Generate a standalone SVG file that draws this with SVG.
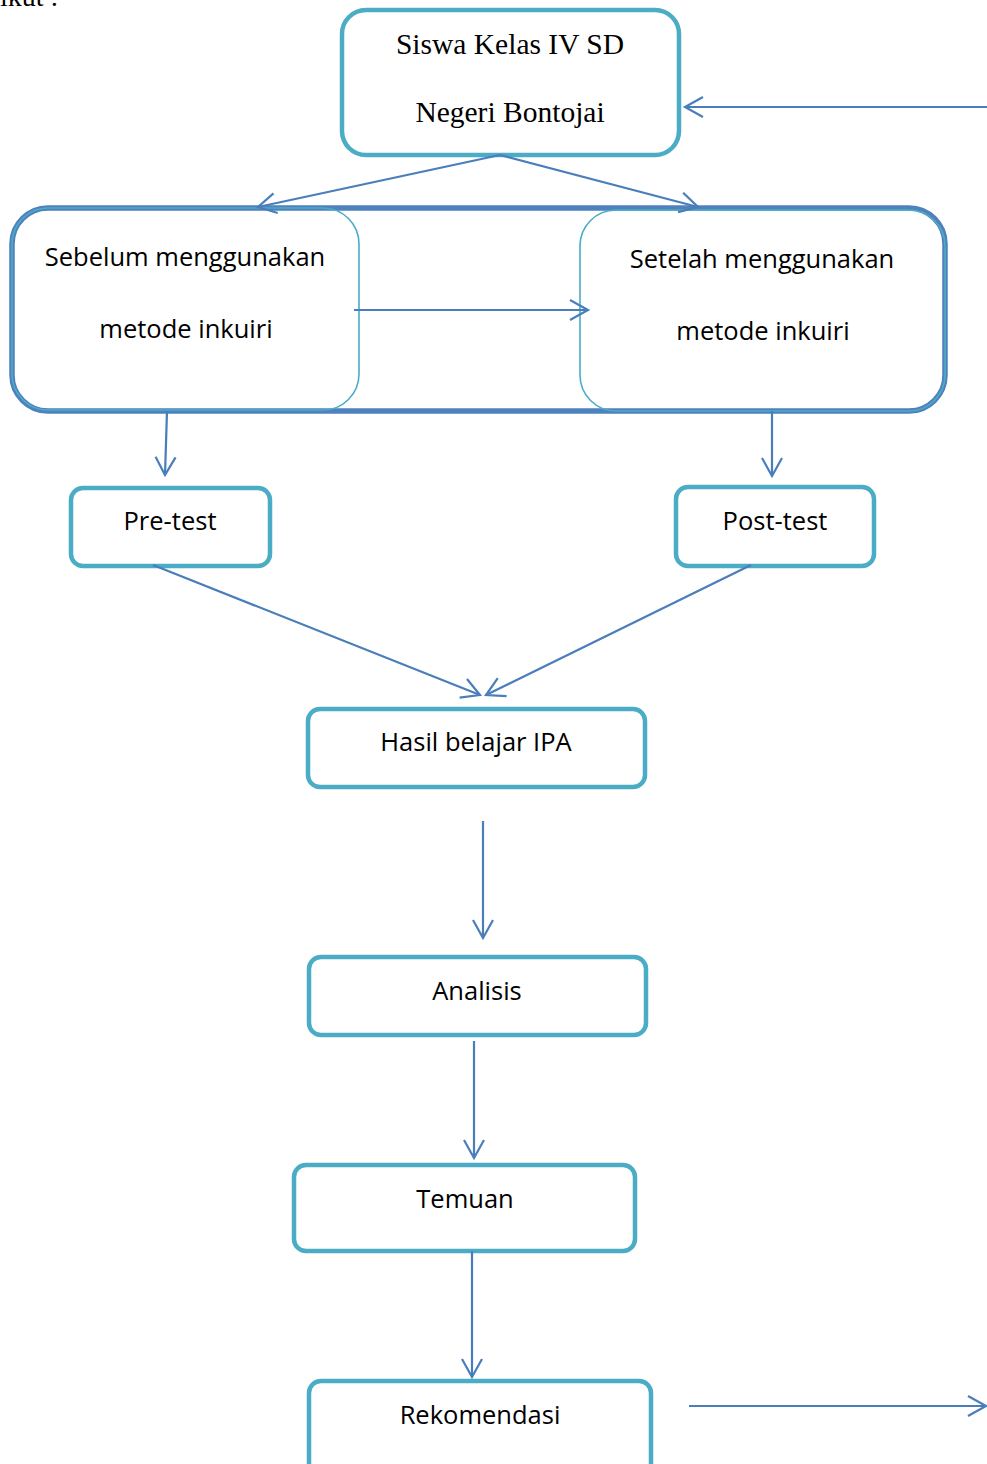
<svg xmlns="http://www.w3.org/2000/svg" width="987" height="1464" viewBox="0 0 987 1464">
<defs>
<marker id="arr" markerUnits="userSpaceOnUse" markerWidth="40" markerHeight="40" refX="0" refY="0" orient="auto" overflow="visible">
<path d="M-18,-10 L0,0 L-18,10" fill="none" stroke="#4A7EBB" stroke-width="2.2"/>
</marker>
<style>
.box{fill:#fff;stroke:#4BACC6;stroke-width:4.5}
.thin{fill:none;stroke:#4BACC6;stroke-width:1.6}
.outer{fill:none;stroke:#4F81BD;stroke-width:5.5}
.c{fill:none;stroke:#4A7EBB;stroke-width:2.2;marker-end:url(#arr)}
.t{font-family:"Open Sans","Liberation Sans",sans-serif;font-size:25.5px;fill:#000;text-anchor:middle}
.s{font-family:"Liberation Serif","Times New Roman",serif;font-size:29.5px;fill:#000;text-anchor:middle}
</style>
</defs>
<rect width="987" height="1464" fill="#fff"/>
<text x="0" y="6" font-family="Liberation Serif, serif" font-size="28" fill="#000">ikut :</text>

<g id="siswa">
<rect class="box" x="342" y="10" width="337" height="145" rx="24"/>
<text class="s" x="510" y="54">Siswa Kelas IV SD</text>
<text class="s" x="510" y="122">Negeri Bontojai</text>
</g>

<g id="kelompok">
<rect class="outer" x="12" y="208" width="933" height="203" rx="36"/>
</g>
<g id="sebelum">
<rect class="thin" x="12" y="208" width="347" height="202" rx="36"/>
<text class="t" x="185" y="266">Sebelum menggunakan</text>
<text class="t" x="186" y="338">metode inkuiri</text>
</g>
<g id="setelah">
<rect class="thin" x="580" y="210" width="365" height="201" rx="36"/>
<text class="t" x="762" y="268">Setelah menggunakan</text>
<text class="t" x="763" y="340">metode inkuiri</text>
</g>

<g id="pretest">
<rect class="box" x="71" y="488" width="199" height="78" rx="12"/>
<text class="t" x="170" y="530">Pre-test</text>
</g>
<g id="posttest">
<rect class="box" x="676" y="487" width="198" height="79" rx="12"/>
<text class="t" x="775" y="530">Post-test</text>
</g>
<g id="hasil">
<rect class="box" x="308" y="709" width="337" height="78" rx="12"/>
<text class="t" x="476" y="751">Hasil belajar IPA</text>
</g>
<g id="analisis">
<rect class="box" x="309" y="957" width="337" height="78" rx="12"/>
<text class="t" x="477" y="1000">Analisis</text>
</g>
<g id="temuan">
<rect class="box" x="294" y="1165" width="341" height="86" rx="12"/>
<text class="t" x="465" y="1208">Temuan</text>
</g>
<g id="rekomendasi">
<rect class="box" x="309" y="1381" width="342" height="100" rx="12"/>
<text class="t" x="480" y="1424">Rekomendasi</text>
</g>

<g id="connectors">
<line class="c" x1="500" y1="155" x2="258" y2="207"/>
<line class="c" x1="500" y1="155" x2="698" y2="207"/>
<line class="c" x1="354" y1="310" x2="588" y2="310"/>
<line class="c" x1="167" y1="411" x2="165" y2="475"/>
<line class="c" x1="772" y1="411" x2="772" y2="476"/>
<line class="c" x1="153" y1="565" x2="480" y2="695"/>
<line class="c" x1="751" y1="565" x2="486" y2="695"/>
<line class="c" x1="483" y1="821" x2="483" y2="938"/>
<line class="c" x1="474" y1="1041" x2="474" y2="1158"/>
<line class="c" x1="472" y1="1251" x2="472" y2="1377"/>
<line class="c" x1="689" y1="1406" x2="986" y2="1406"/>
<line class="c" x1="987" y1="107" x2="685" y2="107"/>
</g>
</svg>
